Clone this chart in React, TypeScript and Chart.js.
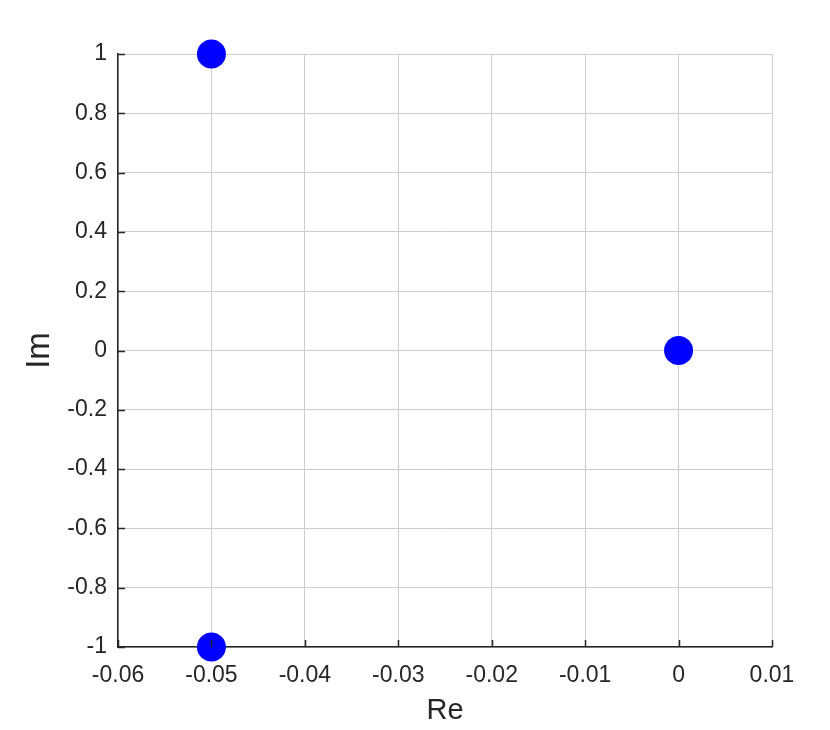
import React, { useEffect, useRef } from "react";
import { Chart, registerables } from "chart.js";

Chart.register(...registerables);

const pointRe = [-0.05, -0.05, 0];
const pointIm = [1, -1, 0];
const xTicks = [-0.06, -0.05, -0.04, -0.03, -0.02, -0.01, 0, 0.01];
const yTicks = [-1, -0.8, -0.6, -0.4, -0.2, 0, 0.2, 0.4, 0.6, 0.8, 1];
const xTitle = "Re";
const yTitle = "Im";

const AXIS = "#262626";
const GRID = "#cdcdcd";
const FONT = "'Liberation Sans', Arial, Helvetica, sans-serif";

const fmt = (v: number) => String(Number(v.toFixed(2)));

const innerTicks = {
  id: "innerTicks",
  afterDatasetsDraw(chart: any) {
    const ctx = chart.ctx;
    const xs = chart.scales.x;
    const ys = chart.scales.y;
    const { left, bottom } = chart.chartArea;
    ctx.save();
    ctx.strokeStyle = AXIS;
    ctx.lineWidth = 1.5;
    ctx.beginPath();
    xTicks.forEach((v) => {
      const px = Math.round(xs.getPixelForValue(v)) + 0.5;
      ctx.moveTo(px, bottom);
      ctx.lineTo(px, bottom - 7);
    });
    yTicks.forEach((v) => {
      const py = Math.round(ys.getPixelForValue(v)) + 0.5;
      ctx.moveTo(left, py);
      ctx.lineTo(left + 7, py);
    });
    ctx.stroke();
    ctx.restore();
  },
};

export default function App() {
  const ref = useRef<HTMLCanvasElement>(null);
  useEffect(() => {
    if (!ref.current) return;
    const data = pointRe.map((x, i) => ({ x, y: pointIm[i] }));
    const chart = new Chart(ref.current, {
      type: "scatter",
      data: {
        datasets: [
          {
            data,
            backgroundColor: "#0000ff",
            borderColor: "#0000ff",
            pointRadius: 14.5,
            pointHoverRadius: 14.5,
            borderWidth: 0,
            clip: false as any,
          },
        ],
      },
      plugins: [innerTicks],
      options: {
        animation: false,
        responsive: true,
        maintainAspectRatio: false,
        layout: { padding: { top: 54, right: 58, left: 0, bottom: 0 } },
        plugins: { legend: { display: false }, tooltip: { enabled: false } },
        scales: {
          x: {
            type: "linear",
            min: -0.06,
            max: 0.01,
            afterBuildTicks: (s: any) => {
              s.ticks = xTicks.map((v) => ({ value: v }));
            },
            afterFit: (s: any) => {
              s.height = 83;
            },
            grid: { color: GRID, lineWidth: 1, drawTicks: false },
            border: { display: true, color: AXIS, width: 1.5 },
            ticks: {
              color: AXIS,
              font: { family: FONT, size: 23 },
              padding: 15,
              maxRotation: 0,
              callback: (v: any) => fmt(Number(v)),
            },
            title: {
              display: true,
              text: xTitle,
              color: AXIS,
              font: { family: FONT, size: 29 },
              padding: { top: 0, bottom: 2 },
            },
          },
          y: {
            type: "linear",
            min: -1,
            max: 1,
            afterBuildTicks: (s: any) => {
              s.ticks = yTicks.map((v) => ({ value: v }));
            },
            afterFit: (s: any) => {
              s.width = 118;
            },
            grid: { color: GRID, lineWidth: 1, drawTicks: false },
            border: { display: true, color: AXIS, width: 1.5 },
            ticks: {
              color: AXIS,
              font: { family: FONT, size: 23 },
              padding: 11,
              callback: (v: any) => fmt(Number(v)),
            },
            title: {
              display: true,
              text: yTitle,
              color: AXIS,
              font: { family: FONT, size: 33 },
              padding: { top: 20, bottom: 0 },
            },
          },
        },
      },
    });
    return () => chart.destroy();
  }, []);
  return (
    <div style={{ position: "absolute", left: 0, top: 0, width: 830, height: 730, background: "#fff" }}>
      <canvas ref={ref} />
    </div>
  );
}
